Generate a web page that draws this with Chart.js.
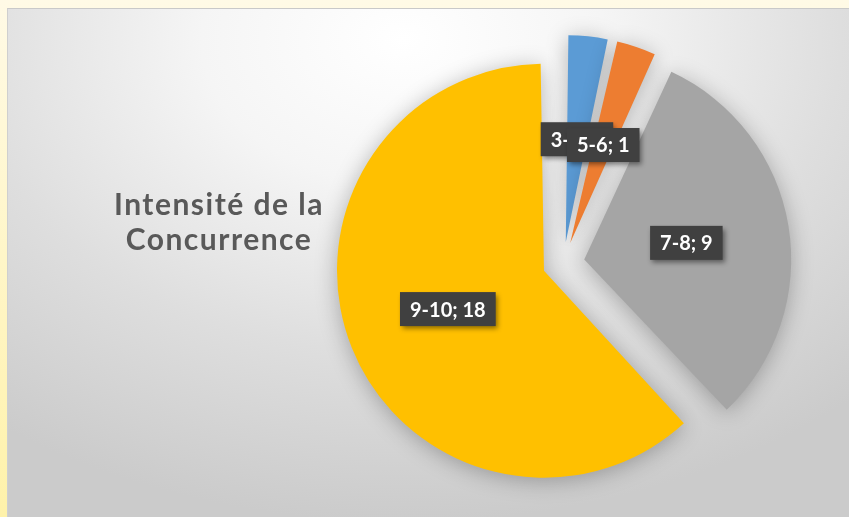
<!DOCTYPE html>
<html>
<head>
<meta charset="utf-8">
<script src="https://cdn.jsdelivr.net/npm/chart.js@4.4.0/dist/chart.umd.min.js"></script>
<style>
  html, body { margin: 0; padding: 0; }
  body { width: 849px; height: 517px; overflow: hidden; position: relative; background: linear-gradient(#fffae6, #fff2aa); }
  #panel {
    position: absolute; left: 7px; top: 8px; right: 0; bottom: 0;
    border-top: 1px solid #c9c9c9; border-left: 1px solid #cfcfcf;
    background: radial-gradient(ellipse 80% 95% at 47% 6%, #ffffff 0%, #f5f5f5 30%, #dedede 65%, #cbcbcb 100%);
  }
  canvas { position: absolute; left: 0; top: 0; }
</style>
</head>
<body>
<div id="panel"></div>
<canvas id="pie" width="849" height="517"></canvas>
<script>
const categories = ["3-4", "5-6", "7-8", "9-10"]
const values = [1, 1, 9, 18]
const sliceColors = ["#5b9bd5", "#ed7d31", "#a5a5a5", "#ffc000"]
const titleLines = ["Intensité de la", "Concurrence"]

const RADIUS = 207
const EXPLODE = 21 // px each slice is pulled out

// chart.js grows the radius of exploded arcs, take it back so all slices match
const radiusFix = {
  id: "radiusFix",
  beforeDatasetsDraw: (chart) => {
    chart.getDatasetMeta(0).data.forEach(arc => {
      const fix = 1 - Math.sin(Math.min(Math.PI, arc.circumference || 0))
      arc.outerRadius = RADIUS - EXPLODE * fix
    })
  }
}

const pieShadow = {
  id: "pieShadow",
  beforeDatasetsDraw: (chart) => {
    const ctx = chart.ctx
    ctx.save()
    ctx.shadowColor = "rgba(0,0,0,0.28)"
    ctx.shadowBlur = 22
    ctx.shadowOffsetY = 3
  },
  afterDatasetsDraw: (chart) => {
    chart.ctx.restore()
  }
}

const sliceLabels = {
  id: "sliceLabels",
  afterDatasetsDraw: (chart) => {
    const ctx = chart.ctx
    ctx.save()
    ctx.font = "bold 20px Lato"
    ctx.textAlign = "center"
    ctx.textBaseline = "middle"
    chart.getDatasetMeta(0).data.forEach((arc, i) => {
      const mid = (arc.startAngle + arc.endAngle) / 2
      const d = EXPLODE + RADIUS / 2
      const x = arc.x + Math.cos(mid) * d
      const y = arc.y + Math.sin(mid) * d
      const text = `${categories[i]}; ${values[i]}`
      const w = ctx.measureText(text).width + 20
      const h = 34
      ctx.shadowColor = "rgba(0,0,0,0.45)"
      ctx.shadowBlur = 5
      ctx.shadowOffsetX = 2
      ctx.shadowOffsetY = 3
      ctx.fillStyle = "#404040"
      ctx.fillRect(x - w / 2, y - h / 2, w, h)
      ctx.shadowColor = "transparent"
      ctx.fillStyle = "#ffffff"
      ctx.fillText(text, x, y + 1)
    })
    ctx.restore()
  }
}

const chartTitle = {
  id: "chartTitle",
  afterDraw: (chart) => {
    const ctx = chart.ctx
    ctx.save()
    ctx.font = "bold 30px Lato"
    ctx.letterSpacing = "1.5px"
    ctx.fillStyle = "#595959"
    ctx.textAlign = "center"
    ctx.textBaseline = "alphabetic"
    ctx.fillText(titleLines[0], 219, 215)
    ctx.fillText(titleLines[1], 219, 250)
    ctx.restore()
  }
}

const canvas = document.getElementById("pie")
new Chart(canvas.getContext("2d"), {
  type: "pie",
  data: {
    labels: categories,
    datasets: [{
      data: values,
      backgroundColor: sliceColors,
      borderWidth: 0,
      offset: EXPLODE * 4,
      hoverOffset: 0,
      radius: RADIUS
    }]
  },
  options: {
    responsive: false,
    animation: false,
    events: [],
    layout: { padding: { left: 300, right: 22, top: 12, bottom: 3 } },
    plugins: {
      legend: { display: false },
      tooltip: { enabled: false },
      title: { display: false }
    }
  },
  plugins: [radiusFix, pieShadow, sliceLabels, chartTitle]
})
</script>
</body>
</html>
